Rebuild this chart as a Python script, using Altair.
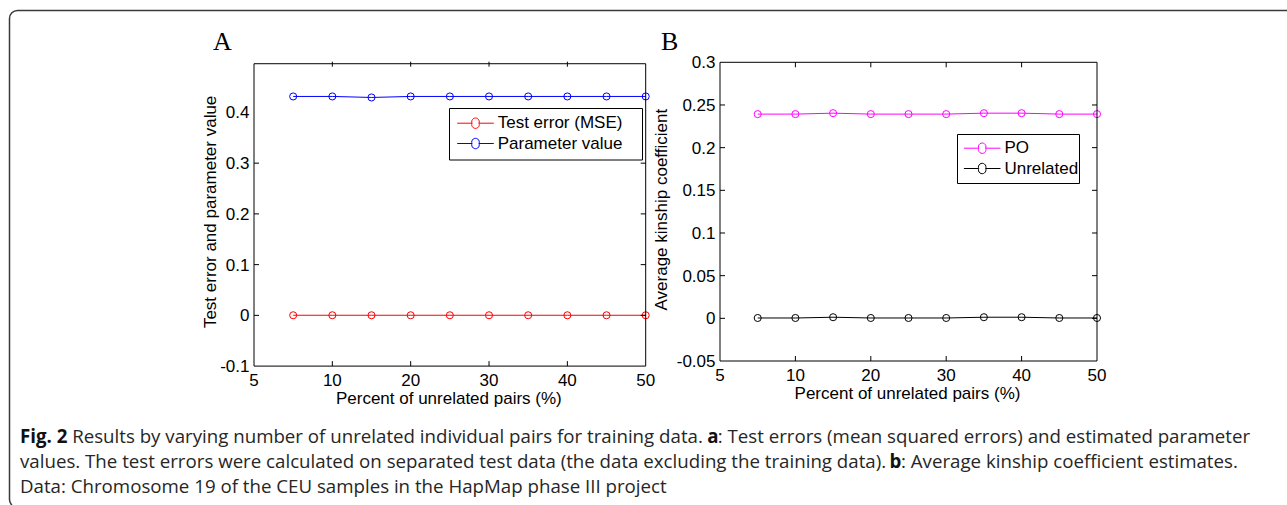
import altair as alt
import pandas as pd

# ---------------- data ----------------
pct = [5, 10, 15, 20, 25, 30, 35, 40, 45, 50]
test_error = [0.0002, 0.0002, 0.0002, 0.0002, 0.0002, 0.0002, 0.0002, 0.0002, 0.0002, 0.0002]
param_value = [0.4315, 0.4315, 0.4295, 0.4315, 0.4315, 0.4315, 0.4315, 0.4315, 0.4315, 0.4315]
po = [0.2393, 0.2393, 0.2404, 0.2393, 0.2393, 0.2393, 0.2404, 0.2404, 0.2393, 0.2393]
unrelated = [0.0004, 0.0004, 0.0013, 0.0004, 0.0004, 0.0004, 0.0013, 0.0013, 0.0004, 0.0004]

series_a = ["Test error (MSE)", "Parameter value"]
colors_a = ["#ff0000", "#0000ff"]
series_b = ["PO", "Unrelated"]
colors_b = ["#ff00ff", "#000000"]

x_domain = [0, 50]
x_tick_values = [0, 10, 20, 30, 40, 50]
x_tick_labels = ["5", "10", "20", "30", "40", "50"]
ya_domain = [-0.1, 0.496]
ya_ticks = [-0.1, 0, 0.1, 0.2, 0.3, 0.4]
ya_labels = ["-0.1", "0", "0.1", "0.2", "0.3", "0.4"]
yb_domain = [-0.05, 0.3]
yb_ticks = [-0.05, 0, 0.05, 0.1, 0.15, 0.2, 0.25, 0.3]
yb_labels = ["-0.05", "0", "0.05", "0.1", "0.15", "0.2", "0.25", "0.3"]

x_title = "Percent of unrelated pairs (%)"
ya_title = "Test error and parameter value"
yb_title = "Average kinship coefficient"
panel_labels = ["A", "B"]

caption_line1 = ["Fig. 2", "Results by varying number of unrelated individual pairs for training data.", "a",
                 ": Test errors (mean squared errors) and estimated parameter"]
caption_line2 = ["values. The test errors were calculated on separated test data (the data excluding the training data).",
                 "b", ": Average kinship coefficient estimates."]
caption_line3 = ["Data: Chromosome 19 of the CEU samples in the HapMap phase III project"]

df_a = pd.DataFrame({
    "x": pct + pct,
    "y": test_error + param_value,
    "series": [series_a[0]] * len(pct) + [series_a[1]] * len(pct),
})
df_b = pd.DataFrame({
    "x": pct + pct,
    "y": po + unrelated,
    "series": [series_b[0]] * len(pct) + [series_b[1]] * len(pct),
})
one = pd.DataFrame({"k": [0]})

AX_FONT = "Liberation Sans"
FS = 17
CAP_FONT = "Open Sans"
CAP_FS = 18.7
CAP_COLOR = "#262626"

# legend symbol: short line, open circle, short line
SYM = ("M-0.648,0L0.762,0M1.428,0L2.838,0"
       "M0.762,0A0.36,0.36,0,1,1,1.428,0A0.36,0.36,0,1,1,0.762,0")


def legend(lx, ly):
    return alt.Legend(orient="none", legendX=lx, legendY=ly, title=None, direction="vertical",
                      symbolType=SYM, symbolSize=441, symbolStrokeWidth=1,
                      symbolFillColor="transparent",
                      labelFont=AX_FONT, labelFontSize=FS, labelColor="black",
                      labelOffset=22.7, rowPadding=1.3, padding=0)


def panel(df, xr, yr, ydom, yticks, ylabels, series, colors,
          lx, ly, box, xl, xr_px, yt, yb, ytitle, ytitle_x):
    xs = alt.Scale(domain=x_domain, range=xr)
    ys = alt.Scale(domain=ydom, range=yr)
    cs = alt.Scale(domain=series, range=colors)
    line = alt.Chart(df).mark_line(strokeWidth=1).encode(
        x=alt.X("x:Q", scale=xs, axis=None),
        y=alt.Y("y:Q", scale=ys, axis=None),
        color=alt.Color("series:N", scale=cs, legend=legend(lx, ly)),
        detail="series:N",
    )
    pts = alt.Chart(df).mark_point(filled=False, size=50, strokeWidth=1, opacity=1).encode(
        x=alt.X("x:Q", axis=None),
        y=alt.Y("y:Q", axis=None),
        color=alt.Color("series:N", legend=None),
    )
    frame = alt.Chart(one).mark_rect(fillOpacity=0, stroke="black", strokeWidth=1).encode(
        x=alt.X(datum=x_domain[0], axis=None), x2=alt.datum(x_domain[1]),
        y=alt.Y(datum=ydom[0], axis=None), y2=alt.datum(ydom[1]),
    )
    xt = pd.DataFrame({"x": x_tick_values[1:-1]})
    yt_df = pd.DataFrame({"y": yticks[1:-1]})
    tb = alt.Chart(xt).mark_rule(color="black", strokeWidth=1).encode(
        x=alt.X("x:Q", axis=None), y=alt.value(yb), y2=alt.value(yb - 5))
    tt = alt.Chart(xt).mark_rule(color="black", strokeWidth=1).encode(
        x=alt.X("x:Q", axis=None), y=alt.value(yt), y2=alt.value(yt + 5))
    tl = alt.Chart(yt_df).mark_rule(color="black", strokeWidth=1).encode(
        y=alt.Y("y:Q", axis=None), x=alt.value(xl), x2=alt.value(xl + 5))
    tr = alt.Chart(yt_df).mark_rule(color="black", strokeWidth=1).encode(
        y=alt.Y("y:Q", axis=None), x=alt.value(xr_px), x2=alt.value(xr_px - 5))
    # tick labels
    xlab_df = pd.DataFrame({"x": x_tick_values, "label": x_tick_labels})
    ylab_df = pd.DataFrame({"y": yticks, "label": ylabels})
    xlab = alt.Chart(xlab_df).mark_text(font=AX_FONT, fontSize=FS, color="black", align="center",
                                        baseline="alphabetic").encode(
        x=alt.X("x:Q", axis=None), y=alt.value(yb + 20), text="label:N")
    ylab = alt.Chart(ylab_df).mark_text(font=AX_FONT, fontSize=FS, color="black", align="right",
                                        baseline="alphabetic", dy=6).encode(
        y=alt.Y("y:Q", axis=None), x=alt.value(xl - 4.5), text="label:N")
    # axis titles
    xtit = alt.Chart(one).mark_text(text=x_title, font=AX_FONT, fontSize=FS, color="black",
                                    align="center", baseline="alphabetic").encode(
        x=alt.value((xr[0] + xr[1]) / 2 - 1), y=alt.value(yb + 38))
    ytit = alt.Chart(one).mark_text(text=ytitle, font=AX_FONT, fontSize=FS, color="black",
                                    align="center", baseline="alphabetic", angle=270).encode(
        x=alt.value(ytitle_x), y=alt.value((yr[0] + yr[1]) / 2 - 2))
    lbox = alt.Chart(one).mark_rect(fill="white", stroke="black", strokeWidth=1).encode(
        x=alt.value(box[0]), x2=alt.value(box[1]), y=alt.value(box[2]), y2=alt.value(box[3]))
    return [line, pts, frame, tb, tt, tl, tr, xlab, ylab, xtit, ytit, lbox]


layers_a = panel(df_a, [254, 645.7], [366.1, 61.7], ya_domain, ya_ticks, ya_labels, series_a, colors_a,
                 453, 112.2, [449.5, 642.5, 108.5, 160], 254, 645.7, 61.7, 366.1, ya_title, 216.4)
layers_b = panel(df_b, [720, 1097], [361, 62.3], yb_domain, yb_ticks, yb_labels, series_b, colors_b,
                 959.7, 137.2, [957.5, 1079.5, 134.5, 183.5], 720, 1097, 62.3, 361, yb_title, 667)


def txt(text, x, y, font=CAP_FONT, size=CAP_FS, weight="normal", color=CAP_COLOR):
    return alt.Chart(one).mark_text(text=text, font=font, fontSize=size, fontWeight=weight,
                                    align="left", baseline="alphabetic", color=color).encode(
        x=alt.value(x), y=alt.value(y))


f = CAP_FS / 17.0
x0 = 20
r1 = x0 + (43 + 4.4) * f
a1 = r1 + (573 + 4.4) * f
t1 = a1 + 9.5 * f
b2 = x0 + (786 + 4.4) * f
c2 = b2 + 10.5 * f

decor = [
    alt.Chart(one).mark_rect(cornerRadius=8, fillOpacity=0, stroke="#3a3a3a", strokeWidth=1.5).encode(
        x=alt.value(9.5), x2=alt.value(1310), y=alt.value(10.5), y2=alt.value(507.5)),
    txt(panel_labels[0], 213, 50, font="Liberation Serif", size=26, color="black"),
    txt(panel_labels[1], 661, 50, font="Liberation Serif", size=26, color="black"),
    txt(caption_line1[0], x0, 443, weight="bold", color="#111111"),
    txt(caption_line1[1], r1, 443),
    txt(caption_line1[2], a1, 443, weight="bold", color="#111111"),
    txt(caption_line1[3], t1, 443),
    txt(caption_line2[0], x0, 468),
    txt(caption_line2[1], b2, 468, weight="bold", color="#111111"),
    txt(caption_line2[2], c2, 468),
    txt(caption_line3[0], x0, 493),
]

panel_a = alt.layer(*layers_a)
panel_b = alt.layer(*layers_b)
panel_d = alt.layer(*decor)

chart = alt.layer(panel_a, panel_b, panel_d).resolve_scale(
    x="independent", y="independent", color="independent"
).properties(
    width=1287, height=505, padding=0, background="white",
    autosize=alt.AutoSizeParams(type="none"),
).configure_view(stroke="transparent")

chart.save("out.html", embed_options={"renderer": "svg", "actions": False})
